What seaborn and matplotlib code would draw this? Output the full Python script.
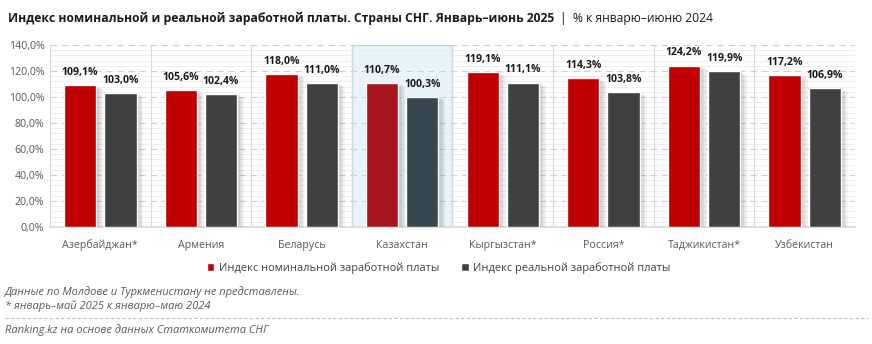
import matplotlib
matplotlib.use("Agg")
import matplotlib.pyplot as plt
import matplotlib.patheffects as pe
from matplotlib.ticker import MultipleLocator, FuncFormatter
from matplotlib.patches import Patch
import seaborn as sns
import pandas as pd

countries = ["Азербайджан*", "Армения", "Беларусь", "Казахстан", "Кыргызстан*",
             "Россия*", "Таджикистан*", "Узбекистан"]
nominal = [109.1, 105.6, 118.0, 110.7, 119.1, 114.3, 124.2, 117.2]
real = [103.0, 102.4, 111.0, 100.3, 111.1, 103.8, 119.9, 106.9]
series = ["Индекс номинальной заработной платы", "Индекс реальной заработной платы"]
highlight = "Казахстан"

sns.set_theme(style="white")
plt.rcParams['font.family'] = ['Open Sans', 'DejaVu Sans']

df = pd.DataFrame({
    "country": countries * 2,
    "value": nominal + real,
    "series": [series[0]] * len(countries) + [series[1]] * len(countries),
})

fig = plt.figure(figsize=(8.72, 3.44), dpi=100)
ax = fig.add_axes([0.0573, 0.340, 0.9232, 0.529])

hi = countries.index(highlight)
ax.axvspan(hi - 0.5, hi + 0.5, facecolor="#E6F5FC", edgecolor="#B9D3DF", lw=1.0, zorder=0)

sns.barplot(data=df, x="country", y="value", hue="series",
            palette=["#C00000", "#404040"], width=0.8, gap=0.2,
            saturation=1, ax=ax, legend=False, zorder=3)

ax.set_ylim(0, 140)
ax.set_xlim(-0.5, len(countries) - 0.5)
ax.yaxis.set_major_locator(MultipleLocator(20))
ax.yaxis.set_minor_locator(MultipleLocator(4))
ax.yaxis.set_major_formatter(FuncFormatter(lambda v, p: f"{v:.1f}%".replace(".", ",")))
ax.grid(axis="y", which="major", color="#CFCFCF", lw=0.8, ls=(0, (6, 4)), zorder=1)
ax.grid(axis="y", which="minor", color="#ECECEC", lw=0.6, zorder=1)
ax.set_axisbelow(True)
for i in range(len(countries) + 1):
    ax.axvline(i - 0.5, color="#D9D9D9", lw=0.8, zorder=1)

ax.set_xlabel("")
ax.set_ylabel("")
ax.tick_params(axis="both", length=0, labelsize=7.7, labelcolor="#595959")
ax.tick_params(axis="x", pad=9)
ax.tick_params(axis="y", pad=4)
for s in ["top", "right", "left"]:
    ax.spines[s].set_visible(False)
ax.spines["bottom"].set_color("#D9D9D9")

bars = [p for p in ax.patches if p.get_height() > 0 and p.get_width() < 0.5]
shadow = [pe.SimplePatchShadow(offset=(o, -o * 0.5), shadow_rgbFace="#000000", alpha=0.045)
          for o in (1, 2, 3, 4, 5)]
for p in bars:
    p.set_path_effects(shadow + [pe.Normal()])
    cx = p.get_x() + p.get_width() / 2
    idx = int(round(cx))
    is_nom = cx < idx
    if idx == hi:
        p.set_facecolor("#A8151E" if is_nom else "#37474F")
    val = p.get_height()
    ax.text(cx, val + 5.5, f"{val:.1f}%".replace(".", ","), ha="center", va="bottom",
            fontsize=7.6, fontweight="bold", color="#1A1A1A", zorder=5)

t1 = fig.text(0.009, 0.945, "Индекс номинальной и реальной заработной платы. Страны СНГ. Январь–июнь 2025",
              fontsize=8.7, fontweight="bold", color="#1A1A1A", va="center")
fig.canvas.draw()
bb = t1.get_window_extent()
x2 = (bb.x1 + 6) / fig.bbox.width
fig.text(x2, 0.945, "|  % к январю–июню 2024", fontsize=8.7, color="#1A1A1A", va="center")

handles = [Patch(facecolor="#C00000", label=series[0]), Patch(facecolor="#404040", label=series[1])]
fig.legend(handles=handles, loc="center", bbox_to_anchor=(0.503, 0.222), ncol=2, frameon=False,
           prop={"size": 7.9}, handlelength=0.7, handleheight=0.7,
           handletextpad=0.4, columnspacing=2.0, labelcolor="#404040")

foot = dict(fontsize=8.0, style="italic", color="#595959", va="center")
fig.text(0.006, 0.151, "Данные по Молдове и Туркменистану не представлены.", **foot)
fig.text(0.006, 0.110, "* январь–май 2025 к январю–маю 2024", **foot)
fig.add_artist(plt.Line2D([0.006, 0.995], [0.076, 0.076], color="#BFBFBF", lw=0.8, ls=(0, (3, 2))))
fig.text(0.006, 0.041, "Ranking.kz на основе данных Статкомитета СНГ", **foot)

fig.savefig("out.png", dpi=100)
